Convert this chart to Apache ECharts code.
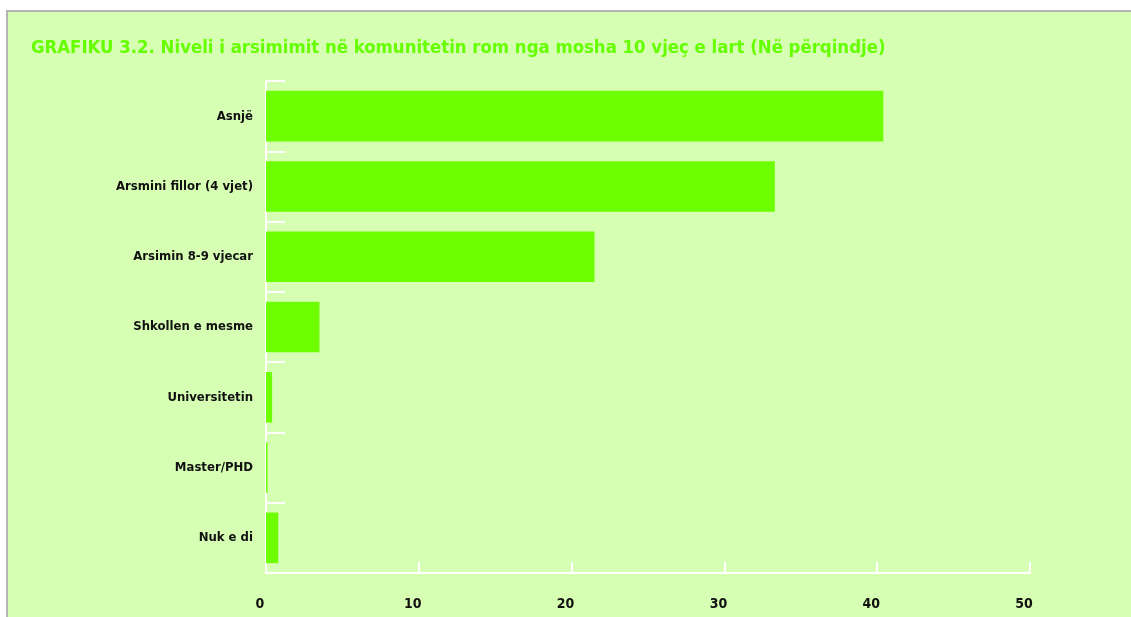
<!DOCTYPE html>
<html><head><meta charset="utf-8">
<script src="https://cdn.jsdelivr.net/npm/echarts@6/dist/echarts.min.js"></script>
<style>html,body{margin:0;padding:0;background:#fff;}#c{width:1131px;height:617px;}</style>
</head><body><div id="c"></div>
<script>
const titleText = 'GRAFIKU 3.2. Niveli i arsimimit në komunitetin rom nga mosha 10 vjeç e lart (Në përqindje)';
const categories = ['Asnjë', 'Arsmini fillor (4 vjet)', 'Arsimin 8-9 vjecar', 'Shkollen e mesme', 'Universitetin', 'Master/PHD', 'Nuk e di'];
const values = [40.4, 33.3, 21.5, 3.5, 0.4, 0.1, 0.8];
const xTicks = [0, 10, 20, 30, 40, 50];

const FONT = '"DejaVu Sans Condensed", "Liberation Sans Narrow", "Open Sans", sans-serif';
const chart = echarts.init(document.getElementById('c'));
chart.setOption({
  backgroundColor: '#ffffff',
  animation: false,
  graphic: [{
    type: 'rect', z: -10, silent: true,
    shape: { x: 7, y: 11, width: 1130, height: 610 },
    style: { fill: '#d6ffb4', stroke: '#b4b4b4', lineWidth: 2 }
  }],
  title: {
    text: titleText, left: 26, top: 34,
    textStyle: { color: '#66ff00', fontSize: 18.4, fontWeight: 'bold', fontFamily: FONT }
  },
  grid: { left: 266, right: 101, top: 81, bottom: 44, containLabel: false },
  xAxis: {
    type: 'value', min: xTicks[0], max: xTicks[xTicks.length - 1], interval: 10,
    axisLine: { show: true, lineStyle: { color: '#ffffff', width: 2 } },
    axisTick: { show: true, inside: true, length: 11, lineStyle: { color: '#ffffff', width: 2 } },
    splitLine: { show: false },
    axisLabel: { color: '#111', fontSize: 14, fontWeight: 'bold', fontFamily: FONT, margin: 24, padding: [0, 12, 0, 0],
      formatter: v => xTicks.includes(v) ? String(v) : '' }
  },
  yAxis: {
    type: 'category', data: categories, inverse: true,
    axisLine: { show: true, lineStyle: { color: '#ffffff', width: 2 } },
    axisTick: { show: true, inside: true, length: 19, lineStyle: { color: '#ffffff', width: 2 } },
    axisLabel: { color: '#111', fontSize: 13, fontWeight: 'bold', fontFamily: FONT, margin: 13 }
  },
  series: [{
    type: 'bar', data: values, barWidth: '72%',
    itemStyle: { color: '#6dff00' }
  }]
});
</script></body></html>
